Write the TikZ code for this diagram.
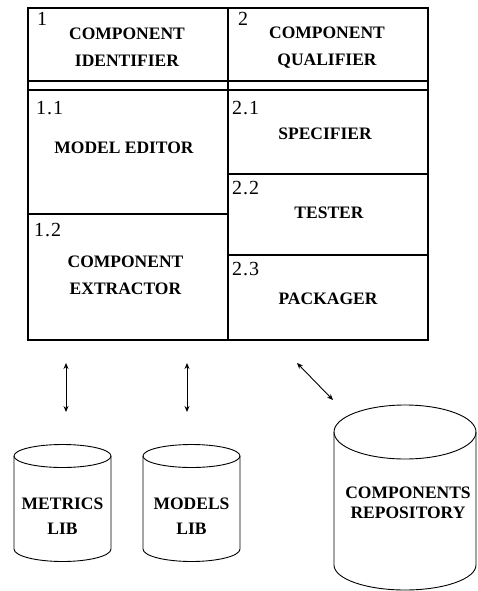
\documentclass[tikz,border=0pt]{standalone}
\usepackage{fontspec}
\setmainfont{Liberation Serif}
\usetikzlibrary{arrows.meta}
\begin{document}
\begin{tikzpicture}[x=1pt,y=-1pt,
 cell/.style={draw, line width=1.1pt, inner sep=0pt, outer sep=0pt, anchor=north west},
 num/.style={inner sep=0pt, anchor=north west, font=\fontsize{20}{20}\selectfont},
 lbl/.style={inner sep=0pt, align=center, font=\fontsize{17.5}{27}\selectfont\bfseries},
 cylline/.style={line width=0.9pt},
 arr/.style={line width=0.9pt, {Stealth[length=6pt,width=5pt]}-{Stealth[length=6pt,width=5pt]}}]
\useasboundingbox (0,0) rectangle (477,591);
% boxes
\node[cell, minimum width=200pt, minimum height=73pt] (c1) at (28,8) {};
\node[cell, minimum width=200pt, minimum height=73pt] (c2) at (228,8) {};
\node[cell, minimum width=200pt, minimum height=124pt] (c11) at (28,90) {};
\node[cell, minimum width=200pt, minimum height=126pt] (c12) at (28,214) {};
\node[cell, minimum width=200pt, minimum height=84pt] (c21) at (228,90) {};
\node[cell, minimum width=200pt, minimum height=81pt] (c22) at (228,174) {};
\node[cell, minimum width=200pt, minimum height=85pt] (c23) at (228,255) {};
\draw[line width=1.1pt] (c1.south west) -- (c11.north west)
  (c1.south east) -- (c11.north east) (c2.south east) -- (c21.north east);
% labels
\node[num] (n1) at (37,12) {1};
\node[lbl] (t1) at (127,47.5) {COMPONENT\\IDENTIFIER};
\node[num] (n2) at (238,12) {2};
\node[lbl] (t2) at (327,47.5) {COMPONENT\\QUALIFIER};
\node[num] (n11) at (36,101) {1\kern1pt.\kern1pt1};
\node[lbl] (t11) at (124,147.5) {MODEL EDITOR};
\node[num] (n21) at (232,101) {2\kern1pt.\kern1pt1};
\node[lbl] (t21) at (325,134) {SPECIFIER};
\node[num] (n22) at (232,181) {2\kern1pt.\kern1pt2};
\node[lbl] (t22) at (329,212.5) {TESTER};
\node[num] (n12) at (34,223) {1\kern1pt.\kern1pt2};
\node[lbl] (t12) at (125.5,275) {COMPONENT\\EXTRACTOR};
\node[num] (n23) at (232,262) {2\kern1pt.\kern1pt3};
\node[lbl] (t23) at (328,298.5) {PACKAGER};
% cylinders
\draw[cylline] (62.5,456) ellipse [x radius=48.5pt, y radius=11.5pt];
\draw[cylline] (14,456) -- (14,549) arc[start angle=180, end angle=360, x radius=48.5pt, y radius=12.5pt] -- (111,456);
\draw[cylline] (191.5,456) ellipse [x radius=48.5pt, y radius=11.5pt];
\draw[cylline] (143,456) -- (143,549) arc[start angle=180, end angle=360, x radius=48.5pt, y radius=12.5pt] -- (240,456);
\draw[cylline] (405,432) ellipse [x radius=71pt, y radius=27pt];
\draw[cylline] (334,432) -- (334,565) arc[start angle=180, end angle=360, x radius=71pt, y radius=25pt] -- (476,432);
\node[lbl] (metrics) at (62.5,516) {METRICS\\[-1.5pt]LIB};
\node[lbl] (models) at (191.5,516) {MODELS\\[-1.5pt]LIB};
\node[lbl, font=\fontsize{17.5}{20}\selectfont\bfseries] (repo) at (408,503) {COMPONENTS\\REPOSITORY};
% arrows
\coordinate (a1s) at (66,363); \coordinate (a1e) at (66,412);
\coordinate (a2s) at (187,363); \coordinate (a2e) at (187,412);
\coordinate (a3s) at (297,363); \coordinate (a3e) at (333,400);
\draw[arr] (a1s) -- (a1e);
\draw[arr] (a2s) -- (a2e);
\draw[arr] (a3s) -- (a3e);
\end{tikzpicture}
\end{document}
